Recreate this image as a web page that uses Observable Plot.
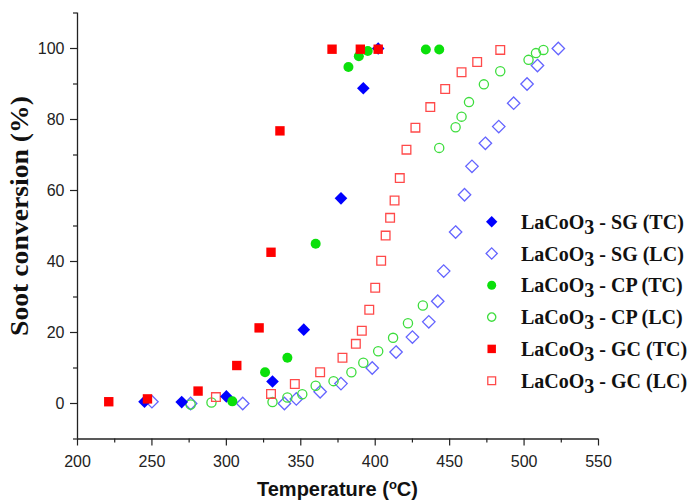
<!DOCTYPE html>
<html><head><meta charset="utf-8">
<script src="https://cdn.jsdelivr.net/npm/d3@7"></script>
<script src="https://cdn.jsdelivr.net/npm/@observablehq/plot@0.6"></script>
<style>
html,body{margin:0;padding:0;background:#fff;}
#chart{position:relative;width:693px;height:502px;}
</style></head><body><div id="chart"></div>
<script>
// ---- data (temperature °C, soot conversion %) ----
const sgTcTemp = [245, 270, 300, 331, 352, 377, 392, 402];
const sgTcConv = [0.5, 0.4, 2, 6.2, 20.8, 57.8, 88.8, 100];

const sgLcTemp = [250, 276, 311, 339, 347, 363, 377, 398, 414, 425, 436, 442, 446, 454, 460, 465, 474, 483, 493, 502, 509, 523];
const sgLcConv = [0.5, 0, 0, 0, 1.3, 3.3, 5.6, 10, 14.5, 18.7, 23, 28.8, 37.3, 48.3, 58.8, 66.8, 73.3, 78, 84.6, 90, 95.2, 100];

const cpTcTemp = [304, 326, 341, 360, 382, 389, 395, 434, 443];
const cpTcConv = [0.6, 8.8, 12.9, 45, 94.8, 97.8, 99.3, 99.7, 99.7];

const cpLcTemp = [276, 290, 331, 341, 351, 360, 372, 384, 392, 402, 412, 422, 432, 443, 454, 458, 463, 473, 484, 503, 508, 513];
const cpLcConv = [-0.3, 0.3, 0.4, 1.7, 2.6, 5, 6.3, 8.8, 11.5, 14.7, 18.5, 22.6, 27.6, 72, 77.8, 80.8, 84.9, 89.9, 93.6, 96.8, 98.7, 99.6];

const gcTcTemp = [221, 247, 281, 307, 322, 330, 336, 371, 390, 402];
const gcTcConv = [0.5, 1.3, 3.5, 10.7, 21.3, 42.6, 76.8, 99.8, 99.8, 99.8];

const gcLcTemp = [293, 330, 346, 363, 378, 387, 391, 396, 400, 404, 407, 410, 413, 416.5, 421, 427, 437, 447, 458, 468.5, 484];
const gcLcConv = [1.8, 2.7, 5.5, 8.8, 12.9, 16.8, 20.5, 26.4, 32.6, 40.2, 47.3, 52.3, 57.2, 63.5, 71.5, 77.7, 83.5, 88.6, 93.3, 96.2, 99.6];

const seriesNames = ["SG (TC)", "SG (LC)", "CP (TC)", "CP (LC)", "GC (TC)", "GC (LC)"];

const xTicks = [200, 250, 300, 350, 400, 450, 500, 550];
const xMinor = [225, 275, 325, 375, 425, 475, 525];
const yTicks = [0, 20, 40, 60, 80, 100];
const yMinor = [-10, 10, 30, 50, 70, 90, 110];

// ---- styles ----
const styles = [
  {symbol: "diamond2", r: 5.7, fill: "#0000ff", stroke: "none", sw: 0},
  {symbol: "diamond2", r: 5.6, fill: "none", stroke: "#6464ff", sw: 1.3},
  {symbol: "circle", r: 5, fill: "#0be00b", stroke: "none", sw: 0},
  {symbol: "circle", r: 4.6, fill: "none", stroke: "#3ddd3d", sw: 1.3},
  {symbol: "square", r: 5.3, fill: "#ff0000", stroke: "none", sw: 0},
  {symbol: "square", r: 4.9, fill: "none", stroke: "#ff4a4a", sw: 1.3}
];

function rows(temps, convs) { return temps.map((t, i) => ({t, v: convs[i]})); }
const allData = [
  rows(sgTcTemp, sgTcConv), rows(sgLcTemp, sgLcConv),
  rows(cpTcTemp, cpTcConv), rows(cpLcTemp, cpLcConv),
  rows(gcTcTemp, gcTcConv), rows(gcLcTemp, gcLcConv)
];

const drawOrder = [1, 3, 5, 0, 2, 4];
const dotMarks = drawOrder.map(i => Plot.dot(allData[i], {
  x: "t", y: "v", symbol: styles[i].symbol, r: styles[i].r,
  fill: styles[i].fill, stroke: styles[i].stroke, strokeWidth: styles[i].sw
}));

const axisColor = "#222";
const chart = Plot.plot({
  width: 693, height: 502,
  marginLeft: 77, marginRight: 95, marginTop: 12.5, marginBottom: 63.5,
  x: {domain: [200, 550]},
  y: {domain: [-10, 110]},
  style: {fontFamily: "'Liberation Sans', Arial, sans-serif", fontSize: "16px", color: axisColor, background: "#fff"},
  marks: [
    Plot.axisX({ticks: xTicks, tickSize: 7, tickPadding: 10, label: null, stroke: axisColor, strokeWidth: 1.2, fontSize: 16, tickFormat: d => String(d)}),
    Plot.axisX({ticks: xMinor, tickSize: 4, text: null, label: null, stroke: axisColor, strokeWidth: 1.2}),
    Plot.axisY({ticks: yTicks, tickSize: 7, tickPadding: 6, label: null, stroke: axisColor, strokeWidth: 1.2, fontSize: 16, tickFormat: d => String(d)}),
    Plot.axisY({ticks: yMinor, tickSize: 4, text: null, label: null, stroke: axisColor, strokeWidth: 1.2}),
    Plot.ruleY([-10], {stroke: axisColor, strokeWidth: 1.3}),
    Plot.ruleX([200], {stroke: axisColor, strokeWidth: 1.3}),
    ...dotMarks
  ]
});
document.getElementById("chart").appendChild(chart);

// ---- titles and legend ----
const svg = d3.select(chart);
svg.append("text")
  .attr("transform", "translate(28,216) rotate(-90)")
  .attr("text-anchor", "middle")
  .attr("font-family", "'Liberation Serif', 'Times New Roman', serif")
  .attr("font-weight", "bold").attr("font-size", 25).attr("fill", "#111")
  .attr("textLength", 240).attr("lengthAdjust", "spacingAndGlyphs")
  .text("Soot conversion (%)");

const xt = svg.append("text")
  .attr("x", 337.5).attr("y", 496)
  .attr("text-anchor", "middle")
  .attr("font-family", "'Liberation Sans', Arial, sans-serif")
  .attr("font-weight", "bold").attr("font-size", 20).attr("fill", "#111");
xt.append("tspan").text("Temperature (");
xt.append("tspan").attr("font-size", 13).attr("dy", -7).text("o");
xt.append("tspan").attr("dy", 7).text("C)");

const symMap = {diamond2: d3.symbolDiamond2, circle: d3.symbolCircle, square: d3.symbolSquare};
const lg = svg.append("g");
seriesNames.forEach((name, i) => {
  const y = 221.7 + 31.8 * i;
  const s = styles[i];
  const rr = s.r * 0.9;
  lg.append("path")
    .attr("transform", `translate(491.7,${y})`)
    .attr("d", d3.symbol(symMap[s.symbol], Math.PI * rr * rr)())
    .attr("fill", s.fill).attr("stroke", s.stroke).attr("stroke-width", s.sw || null);
  const t = lg.append("text")
    .attr("x", 521).attr("y", y + 7)
    .attr("text-anchor", "start")
    .attr("font-family", "'Liberation Serif', 'Times New Roman', serif")
    .attr("font-weight", "bold").attr("font-size", 20).attr("fill", "#111");
  t.append("tspan").text("LaCoO");
  t.append("tspan").attr("dy", 5).text("3");
  t.append("tspan").attr("dy", -5).text(" - " + name);
});
</script>
</body></html>
